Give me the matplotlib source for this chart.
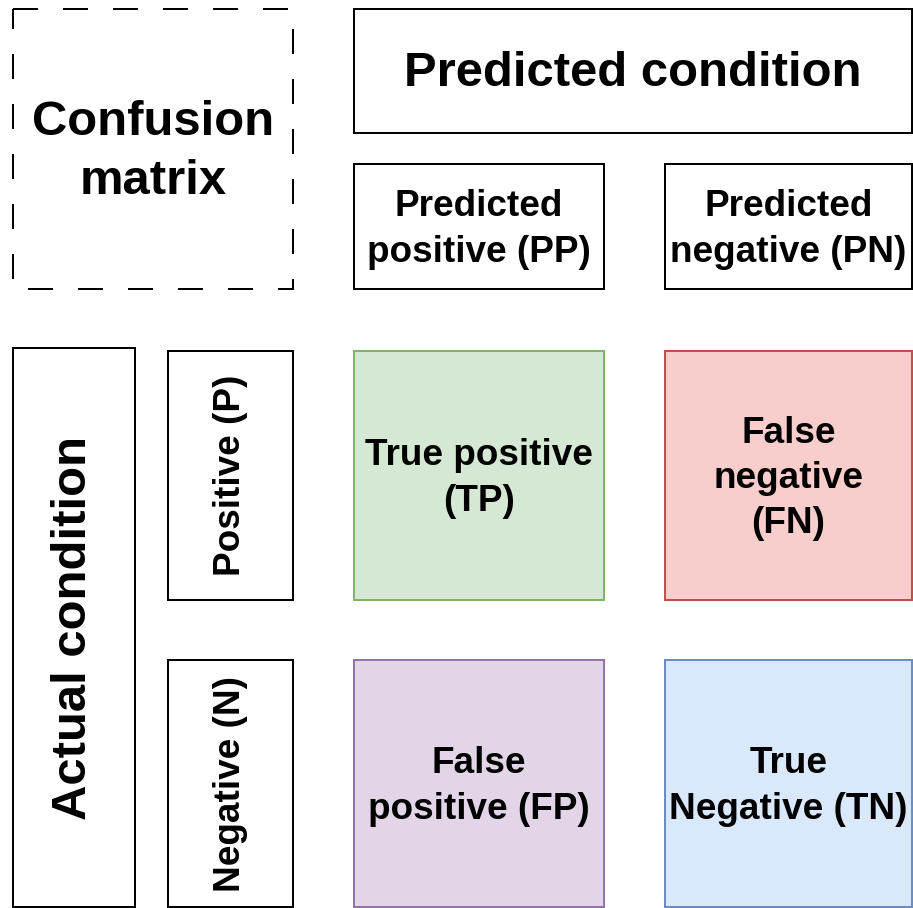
import matplotlib.pyplot as plt
from matplotlib.patches import Rectangle

# cell labels of the confusion matrix
header_label = "Predicted condition"
corner_label = "Confusion\nmatrix"
pred_labels = ["Predicted\npositive (PP)", "Predicted\nnegative (PN)"]
actual_label = "Actual condition"
actual_labels = ["Positive (P)", "Negative (N)"]
cell_labels = [["True positive\n(TP)", "False\nnegative\n(FN)"],
               ["False\npositive (FP)", "True\nNegative (TN)"]]
cell_fill = [["#d5e8d4", "#f8cecc"], ["#e1d5e7", "#dae8fc"]]
cell_edge = [["#82b366", "#b85450"], ["#9673a6", "#6c8ebf"]]

W, H = 913, 908
fig = plt.figure(figsize=(W / 100, H / 100), dpi=100)
ax = fig.add_axes([0, 0, 1, 1])
ax.set_xlim(0, W)
ax.set_ylim(H, 0)
ax.axis("off")

LW = 1.44
FONT = "Liberation Sans"
BIG = 35.3
SMALL = 26.6

col_x = [354, 665]
col_w = [250, 247]
row_y = [351, 660]
row_h = [249, 247]


def box(x, y, w, h, text, fs, fc="white", ec="black", rot=0, ls="-"):
    ax.add_patch(Rectangle((x, y), w, h, facecolor=fc, edgecolor=ec,
                           lw=LW, linestyle=ls))
    spacing = 1.4 if fs == BIG else 1.38
    dy = 0 if rot else 3
    ax.text(x + w / 2, y + h / 2 + dy, text, ha="center", va="center",
            fontsize=fs, fontweight="bold", family=FONT, rotation=rot,
            multialignment="center", linespacing=spacing)


box(13, 9, 280, 280, corner_label, BIG, ls=(0, (12.5, 12.5)))
box(354, 9, 558, 124, header_label, BIG)
for j in range(2):
    box(col_x[j], 164, col_w[j], 125, pred_labels[j], SMALL)

box(13, 348, 122, 559, actual_label, BIG, rot=90)
for i in range(2):
    box(168, row_y[i], 125, row_h[i], actual_labels[i], SMALL, rot=90)
    for j in range(2):
        box(col_x[j], row_y[i], col_w[j], row_h[i],
            cell_labels[i][j], SMALL, fc=cell_fill[i][j], ec=cell_edge[i][j])

fig.savefig("out.png", dpi=100)
